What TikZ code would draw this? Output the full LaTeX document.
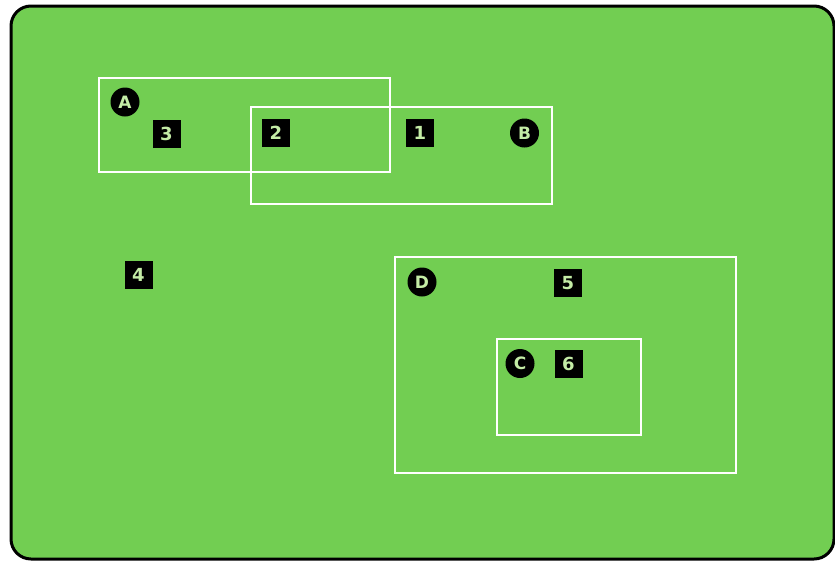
\documentclass[tikz,border=0pt]{standalone}
\usepackage{fontspec}
\setmainfont{DejaVu Sans}
\begin{document}
\begin{tikzpicture}[x=1pt,y=-1pt,
  card/.style={draw=black,line width=3pt,fill=cardgreen,rounded corners=20pt},
  zone/.style={draw=white,line width=2.2pt},
  numbox/.style={fill=black,text=labgreen,minimum size=28pt,inner sep=0pt,font=\fontsize{18}{18}\selectfont\bfseries},
  letcirc/.style={circle,fill=black,text=labgreen,minimum size=29pt,inner sep=0pt,font=\fontsize{17}{17}\selectfont\bfseries}]
\definecolor{cardgreen}{RGB}{114,206,82}
\definecolor{labgreen}{RGB}{196,236,166}
\useasboundingbox (0,0) rectangle (835,560);
\fill[white] (0,0) rectangle (835,560);
\draw[card] (11,6) rectangle (834,559);
% zones
\draw[zone] (99,78) rectangle (390,172);
\draw[zone] (251,107) rectangle (552,204);
\draw[zone] (395,257) rectangle (736,473);
\draw[zone] (497,339) rectangle (641,435);
% circles
\node[letcirc] (A) at (125,102) {A};
\node[letcirc] (B) at (524.5,133) {B};
\node[letcirc] (C) at (520,363.5) {C};
\node[letcirc] (D) at (422,282) {D};
% boxes
\node[numbox] (n1) at (420,133) {1};
\node[numbox] (n2) at (276,133) {2};
\node[numbox] (n3) at (166.5,134) {3};
\node[numbox] (n4) at (138.5,275) {4};
\node[numbox] (n5) at (568,283) {5};
\node[numbox] (n6) at (568.5,363.5) {6};
\end{tikzpicture}
\end{document}
